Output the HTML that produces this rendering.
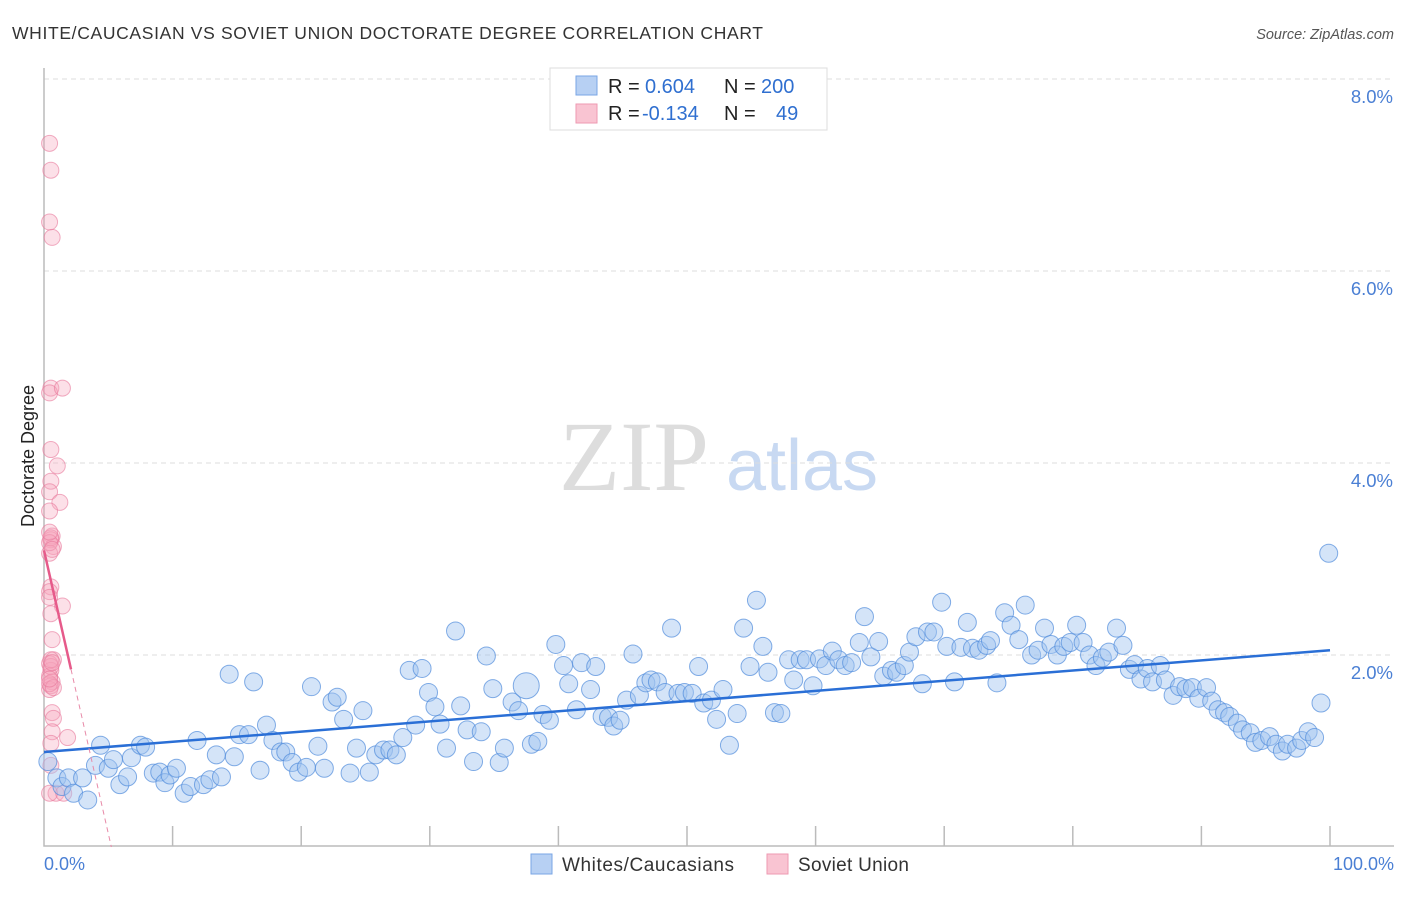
<!DOCTYPE html>
<html><head><meta charset="utf-8"><style>
body{margin:0;background:#fff;font-family:"Liberation Sans",sans-serif}
</style></head><body>
<svg id="c" width="1406" height="892" font-family="Liberation Sans, sans-serif">
<text x="12" y="39" font-size="17.5" fill="#333" textLength="751">WHITE/CAUCASIAN VS SOVIET UNION DOCTORATE DEGREE CORRELATION CHART</text>
<text x="1394" y="39" font-size="14.5" fill="#555" text-anchor="end" font-style="italic">Source: ZipAtlas.com</text>
<g><text x="634" y="490" font-size="100" fill="#ddd" style="font-family:'Liberation Serif',serif" text-anchor="middle">ZIP</text><text x="802" y="490" font-size="72" fill="#c8d9f2" text-anchor="middle">atlas</text></g>
<g id="grid"></g><g id="pts"></g><g id="lines"></g>
<text transform="translate(34,456) rotate(-90)" font-size="18" fill="#222" text-anchor="middle">Doctorate Degree</text>
<text x="44" y="870" font-size="18" fill="#4a7fd4">0.0%</text>
<text x="1394" y="870" font-size="18" fill="#4a7fd4" text-anchor="end">100.0%</text>
<g>
<rect x="550" y="68" width="277" height="62" fill="#fff" stroke="#ddd"/>
<rect x="576" y="76" width="21" height="19" fill="#b7d0f3" stroke="#7aa6e4"/>
<rect x="576" y="104" width="21" height="19" fill="#f9c4d2" stroke="#ee9ab2"/>
<text x="608" y="93" font-size="20" fill="#222">R = <tspan x="645" fill="#2f6fd0">0.604</tspan><tspan x="724">N = </tspan><tspan x="761" fill="#2f6fd0">200</tspan></text>
<text x="608" y="120" font-size="20" fill="#222">R = <tspan x="642" fill="#2f6fd0">-0.134</tspan><tspan x="724">N = </tspan><tspan x="776" fill="#2f6fd0">49</tspan></text>
</g>
<g>
<rect x="531" y="854" width="21" height="20" fill="#b7d0f3" stroke="#7aa6e4"/>
<text x="562" y="871" font-size="19" fill="#333" textLength="172">Whites/Caucasians</text>
<rect x="767" y="854" width="21" height="20" fill="#f9c4d2" stroke="#ee9ab2"/>
<text x="798" y="871" font-size="19" fill="#333" textLength="111">Soviet Union</text>
</g>
</svg>
<script>
const yTicks=[2,4,6,8];
const yTickLabels=["2.0%","4.0%","6.0%","8.0%"];
const blueX=[0.3,1.0,1.4,1.9,2.3,3.0,3.4,4.0,4.4,5.0,5.4,5.9,6.5,6.8,7.5,7.9,8.5,9.0,9.4,9.8,10.3,10.9,11.4,11.9,12.4,12.9,13.4,13.8,14.4,14.8,15.2,15.9,16.3,16.8,17.3,17.8,18.4,18.8,19.3,19.8,20.4,20.8,21.3,21.8,22.4,22.8,23.3,23.8,24.3,24.8,25.3,25.8,26.4,26.9,27.4,27.9,28.4,28.9,29.4,29.9,30.4,30.8,31.3,32.0,32.4,32.9,33.4,34.0,34.4,34.9,35.4,35.8,36.4,36.9,37.5,37.9,38.4,38.8,39.3,39.8,40.4,40.8,41.4,41.8,42.5,42.9,43.4,43.9,44.3,44.8,45.3,45.8,46.3,46.8,47.2,47.7,48.3,48.8,49.3,49.8,50.4,50.9,51.3,51.9,52.3,52.8,53.3,53.9,54.4,54.9,55.4,55.9,56.3,56.8,57.3,57.9,58.3,58.8,59.3,59.8,60.3,60.8,61.3,61.8,62.3,62.8,63.4,63.8,64.3,64.9,65.3,65.9,66.3,66.9,67.3,67.8,68.3,68.7,69.2,69.8,70.2,70.8,71.3,71.8,72.2,72.7,73.3,73.6,74.1,74.7,75.2,75.8,76.3,76.8,77.3,77.8,78.3,78.8,79.3,79.8,80.3,80.8,81.3,81.8,82.3,82.8,83.4,83.9,84.4,84.8,85.3,85.8,86.2,86.8,87.2,87.8,88.3,88.8,89.3,89.8,90.4,90.8,91.3,91.8,92.2,92.8,93.2,93.8,94.2,94.7,95.3,95.8,96.3,96.7,97.4,97.8,98.3,98.8,99.3,99.9];
const blueY=[0.89,0.72,0.63,0.72,0.56,0.72,0.49,0.85,1.06,0.82,0.91,0.65,0.73,0.93,1.06,1.04,0.77,0.78,0.67,0.75,0.82,0.56,0.63,1.11,0.65,0.70,0.96,0.73,1.80,0.94,1.17,1.17,1.72,0.80,1.27,1.11,0.99,0.99,0.88,0.78,0.83,1.67,1.05,0.82,1.51,1.56,1.33,0.77,1.03,1.42,0.78,0.96,1.01,1.01,0.96,1.14,1.84,1.27,1.86,1.61,1.46,1.28,1.03,2.25,1.47,1.22,0.89,1.20,1.99,1.65,0.88,1.03,1.51,1.42,1.68,1.07,1.10,1.38,1.32,2.11,1.89,1.70,1.43,1.92,1.64,1.88,1.36,1.35,1.26,1.32,1.53,2.01,1.58,1.71,1.74,1.72,1.61,2.28,1.60,1.61,1.60,1.88,1.50,1.53,1.33,1.64,1.06,1.39,2.28,1.88,2.57,2.09,1.82,1.40,1.39,1.95,1.74,1.95,1.95,1.68,1.96,1.89,2.04,1.95,1.89,1.92,2.13,2.40,1.98,2.14,1.78,1.84,1.82,1.89,2.03,2.19,1.70,2.24,2.24,2.55,2.09,1.72,2.08,2.34,2.07,2.05,2.10,2.15,1.71,2.44,2.31,2.16,2.52,2.00,2.05,2.28,2.11,2.00,2.09,2.13,2.31,2.13,2.00,1.89,1.97,2.03,2.28,2.10,1.85,1.90,1.75,1.86,1.72,1.89,1.74,1.58,1.67,1.65,1.66,1.55,1.66,1.52,1.43,1.40,1.36,1.29,1.22,1.19,1.09,1.11,1.15,1.07,1.00,1.07,1.03,1.11,1.20,1.14,1.50,3.06];
const pinkX=[0.2,0.3,0.2,0.4,0.3,0.2,1.2,0.3,0.8,0.3,0.2,1.0,0.2,0.4,0.3,0.5,0.2,0.3,0.2,1.2,0.3,0.4,0.5,0.2,0.3,0.2,0.4,0.3,0.2,0.4,0.5,1.6,0.3,0.7,0.2,0.3,0.2,0.4,0.3,0.2,0.3,0.5,0.2,0.4,0.3,0.2,1.3,0.2,0.4];
const pinkY=[7.33,7.05,6.51,6.35,4.78,4.73,4.78,4.14,3.97,3.81,3.70,3.59,3.50,3.24,3.20,3.13,3.06,2.71,2.66,2.51,2.43,2.16,1.95,1.91,1.84,1.78,1.72,1.68,1.64,1.40,1.34,1.14,0.85,0.56,0.56,3.22,3.17,3.10,1.88,1.70,1.95,1.66,2.60,1.20,1.08,3.28,0.56,1.75,1.92];
const blueFit=[0.99,2.05];
const pinkFit=[3.09,-0.59];
const X0=44,X1=1330,Y0=847,PY=96;
const sx=v=>X0+(X1-X0)*v/100, sy=v=>Y0-v*PY;
const NS="http://www.w3.org/2000/svg";
function mk(tag,attrs,parent){const e=document.createElementNS(NS,tag);for(const k in attrs)e.setAttribute(k,attrs[k]);parent.appendChild(e);return e;}
const grid=document.getElementById('grid');
yTicks.forEach((t,i)=>{
 const l=mk('line',{x1:X0,x2:1394,y1:sy(t),y2:sy(t),stroke:'#ddd','stroke-dasharray':'5,4'},grid);
 
 
 const tx=mk('text',{x:1393,y:sy(t)+24,'font-size':18.5,fill:'#4a7fd4','text-anchor':'end'},grid);
 tx.textContent=yTickLabels[i];
 
 
});
const ax=mk('path',{d:`M${X0} 68V846H1394`,fill:'none',stroke:'#bbb','stroke-width':1.5},grid);


for(let i=1;i<=10;i++){const tk=mk('line',{x1:sx(i*10),x2:sx(i*10),y1:826,y2:846,stroke:'#bbb','stroke-width':1.5},grid);
 
 }
const pts=document.getElementById('pts');
pinkX.forEach((x,i)=>{const c=mk('circle',{cx:sx(x)+3,cy:sy(pinkY[i]),r:8,fill:'rgba(246,165,190,0.35)',stroke:'rgba(232,120,155,0.6)'},pts);
 
 });
blueX.forEach((x,i)=>{const big=(Math.abs(x-37.5)<0.01);const c=mk('circle',{cx:sx(x),cy:sy(blueY[i]),r:big?13:9,fill:'rgba(160,196,240,0.45)',stroke:'rgba(80,140,220,0.7)'},pts);
 
 });
const lines=document.getElementById('lines');
const bl=mk('line',{x1:sx(0),y1:sy(blueFit[0]),x2:sx(100),y2:sy(blueFit[1]),stroke:'#2a6fd6','stroke-width':2.5},lines);


const pe=2.1, pz=-pinkFit[0]/pinkFit[1];
const pl=mk('line',{x1:sx(0),y1:sy(pinkFit[0]),x2:sx(pe),y2:sy(pinkFit[0]+pinkFit[1]*pe),stroke:'#e65a8a','stroke-width':2.5},lines);


const pd=mk('line',{x1:sx(pe),y1:sy(pinkFit[0]+pinkFit[1]*pe),x2:sx(pz),y2:sy(0),stroke:'#e88aa8','stroke-width':1,'stroke-dasharray':'5,4'},lines);


</script>
</body></html>
